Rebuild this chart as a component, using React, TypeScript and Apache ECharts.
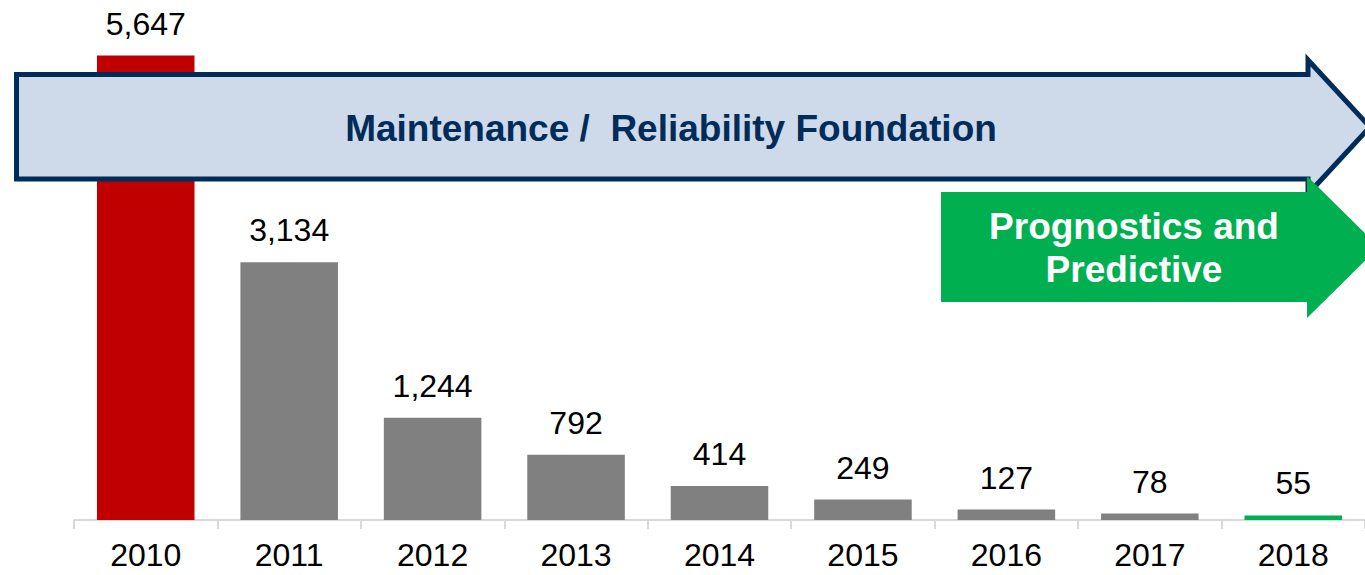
import React, { useEffect, useRef } from "react";
import * as echarts from "echarts";

const years = ["2010", "2011", "2012", "2013", "2014", "2015", "2016", "2017", "2018"];
const values = [5647, 3134, 1244, 792, 414, 249, 127, 78, 55];
const barColors = ["#C00000", "#808080", "#808080", "#808080", "#808080", "#808080", "#808080", "#808080", "#00B050"];
const mainArrowText = "Maintenance /  Reliability Foundation";
const greenArrowText = "Prognostics and\nPredictive";

export default function App() {
  const ref = useRef<HTMLDivElement>(null);
  useEffect(() => {
    if (!ref.current) return;
    const chart = echarts.init(ref.current, undefined, { renderer: "svg" });
    const font = "'Liberation Sans', Arial, sans-serif";
    chart.setOption({
      animation: false,
      grid: { left: 74, right: -5, top: 26.5, bottom: 55 },
      xAxis: {
        type: "category",
        data: years,
        axisLine: { lineStyle: { color: "#D9D9D9", width: 2 } },
        axisTick: { show: true, length: 9, lineStyle: { color: "#D9D9D9", width: 2 } },
        axisLabel: { color: "#000", fontSize: 32, lineHeight: 26, fontFamily: font, margin: 22 },
      },
      yAxis: { type: "value", min: 0, max: 6000, show: false, splitLine: { show: false } },
      series: [
        {
          type: "bar",
          barWidth: "68%",
          data: values.map((v, i) => ({ value: v, itemStyle: { color: barColors[i] } })),
          label: {
            show: true,
            position: "top",
            distance: 16,
            color: "#000",
            fontSize: 32,
            fontFamily: font,
            formatter: (p: any) => Number(p.value).toLocaleString("en-US"),
          },
        },
      ],
      graphic: [
        {
          type: "polygon",
          z: 100,
          shape: {
            points: [
              [16.5, 74.5], [1308, 74.5], [1308, 60], [1370, 127], [1308, 194], [1308, 179], [16.5, 179],
            ],
          },
          style: { fill: "#CED9EA", stroke: "#002C5A", lineWidth: 5, lineJoin: "miter" },
        },
        {
          type: "text",
          z: 101,
          x: 671,
          y: 128,
          style: {
            text: mainArrowText,
            fill: "#002C5A",
            font: `bold 37px ${font}`,
            align: "center",
            verticalAlign: "middle",
          },
        },
        {
          type: "polygon",
          z: 102,
          shape: {
            points: [
              [941, 192], [1307, 192], [1307, 176], [1379, 247], [1307, 318], [1307, 302], [941, 302],
            ],
          },
          style: { fill: "#00B050" },
        },
        {
          type: "text",
          z: 103,
          x: 1134,
          y: 248,
          style: {
            text: greenArrowText,
            fill: "#FFFFFF",
            font: `bold 37px ${font}`,
            lineHeight: 43,
            align: "center",
            verticalAlign: "middle",
          },
        },
      ],
    });
    return () => chart.dispose();
  }, []);
  return (
    <div
      ref={ref}
      style={{ position: "fixed", left: 0, top: 0, width: 1365, height: 575, background: "#fff" }}
    />
  );
}
